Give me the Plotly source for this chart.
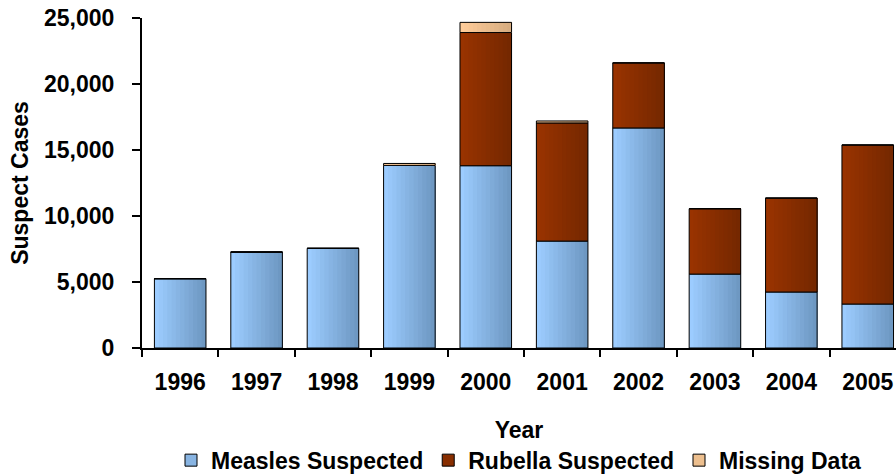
import plotly.graph_objects as go

years = ["1996", "1997", "1998", "1999", "2000", "2001", "2002", "2003", "2004", "2005"]
measles = [5250, 7270, 7550, 13830, 13810, 8100, 16670, 5600, 4240, 3330]
rubella = [0, 0, 0, 0, 10090, 8950, 4930, 4950, 7120, 12050]
missing = [0, 0, 0, 150, 770, 150, 0, 0, 0, 0]

series_names = ["Measles Suspected", "Rubella Suspected", "Missing Data"]
grad = {
    "Measles Suspected": ((0x9C, 0xCC, 0xFF), (0x6E, 0x98, 0xC2)),
    "Rubella Suspected": ((0x99, 0x33, 0x00), (0x75, 0x28, 0x00)),
    "Missing Data": ((0xFF, 0xCC, 0x99), (0xD6, 0xAC, 0x80)),
}
mid = {"Measles Suspected": "#88B4E2", "Rubella Suspected": "#882E00", "Missing Data": "#EDBF8E"}

FONT = "Liberation Sans, Arial, sans-serif"
BW = 0.675
N = 12

fig = go.Figure()

bases = {
    "Measles Suspected": [0] * len(years),
    "Rubella Suspected": list(measles),
    "Missing Data": [m + r for m, r in zip(measles, rubella)],
}
vals = {"Measles Suspected": measles, "Rubella Suspected": rubella, "Missing Data": missing}

for name in series_names:
    c0, c1 = grad[name]
    for i in range(N):
        t = i / (N - 1)
        col = "rgb(%d,%d,%d)" % tuple(round(a + (b - a) * t) for a, b in zip(c0, c1))
        start = -BW / 2 + i * BW / N
        fig.add_trace(go.Bar(
            x=years, y=vals[name], base=bases[name],
            width=BW / 2 - start, offset=start,
            marker=dict(color=col, line=dict(width=0)),
            showlegend=False, hoverinfo="skip",
        ))
    fig.add_trace(go.Bar(
        x=years, y=vals[name], base=bases[name], width=BW,
        marker=dict(color="rgba(0,0,0,0)", line=dict(color="black", width=1)),
        showlegend=False, name=name,
    ))

for name in series_names:
    fig.add_trace(go.Bar(
        x=[None], y=[None], name=name,
        marker=dict(color=mid[name], line=dict(color="black", width=1)),
    ))

fig.update_layout(
    width=896, height=474,
    margin=dict(l=142, r=0, t=18, b=126, autoexpand=False),
    barmode="overlay",
    plot_bgcolor="white", paper_bgcolor="white",
    font=dict(family=FONT, size=23, color="black"),
    legend=dict(
        orientation="h", x=0.5, xanchor="center", y=-0.34, yanchor="middle",
        font=dict(family=FONT, size=23, color="black", weight="bold"),
        itemwidth=30, tracegroupgap=0,
    ),
)
fig.update_xaxes(
    type="category", range=[-0.5, 9.37], automargin=False,
    showline=True, linecolor="black", linewidth=2,
    ticks="outside", tickson="boundaries", ticklen=7, tickwidth=2, tickcolor="black",
    tickfont=dict(family=FONT, size=23, color="black", weight="bold"),
    ticklabelstandoff=12,
    title=dict(text="Year", font=dict(family=FONT, size=23, color="black", weight="bold"), standoff=28),
    showgrid=False, zeroline=False,
)
fig.update_yaxes(
    range=[0, 25000], tickvals=[0, 5000, 10000, 15000, 20000, 25000],
    tickformat=",d", automargin=False,
    showline=True, linecolor="black", linewidth=2,
    ticks="outside", ticklen=8, tickwidth=2, tickcolor="black",
    tickfont=dict(family=FONT, size=23, color="black", weight="bold"),
    ticklabelstandoff=13,
    title=dict(text="Suspect Cases", font=dict(family=FONT, size=23, color="black", weight="bold"), standoff=9),
    showgrid=False, zeroline=False,
)

fig.write_html(
    "out.html",
    config={"displayModeBar": False},
    post_script="document.body.style.margin='0';document.body.style.padding='0';document.body.style.overflow='hidden';",
)
